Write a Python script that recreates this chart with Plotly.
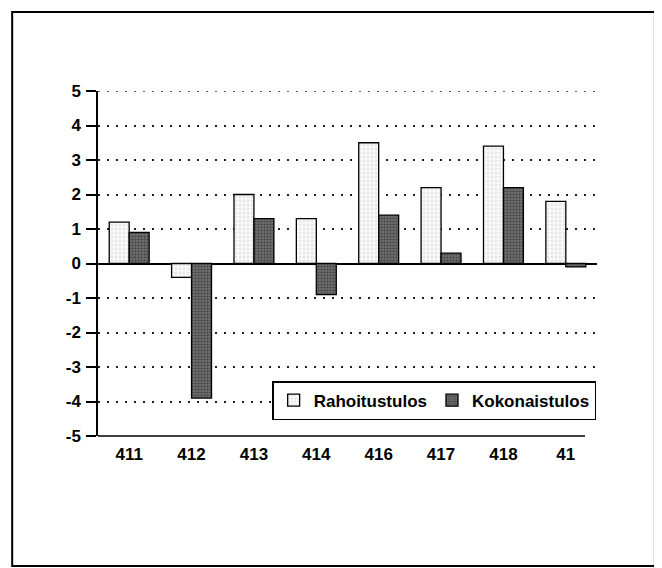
import plotly.graph_objects as go

categories = ["411", "412", "413", "414", "416", "417", "418", "41"]
rahoitustulos = [1.2, -0.4, 2.0, 1.3, 3.5, 2.2, 3.4, 1.8]
kokonaistulos = [0.9, -3.9, 1.3, -0.9, 1.4, 0.3, 2.2, -0.1]
y_ticks = [5, 4, 3, 2, 1, 0, -1, -2, -3, -4, -5]
y_max = 5

fig = go.Figure()
fig.add_trace(go.Bar(
    x=categories, y=rahoitustulos, name="Rahoitustulos",
    marker=dict(color="#f3f3f3", line=dict(color="black", width=1.3),
                pattern=dict(shape=".", fgcolor="#cfcfcf", bgcolor="#f7f7f7", size=4, solidity=0.25)),
))
fig.add_trace(go.Bar(
    x=categories, y=kokonaistulos, name="Kokonaistulos",
    marker=dict(color="#4a4a4a", line=dict(color="black", width=1.3),
                pattern=dict(shape=".", fgcolor="#1a1a1a", bgcolor="#7a7a7a", size=3, solidity=0.55)),
))

font_family = "Liberation Sans, Arial, sans-serif"

fig.update_layout(
    width=654, height=560,
    margin=dict(l=90, r=65, t=83, b=132),
    paper_bgcolor="white", plot_bgcolor="white",
    barmode="group", bargap=0.36, bargroupgap=0,
    showlegend=True,
    legend=dict(
        orientation="h", x=0.349, y=0.159, xanchor="left", yanchor="top",
        bordercolor="black", borderwidth=1.5, bgcolor="white",
        font=dict(family=font_family, size=17, color="black", weight="bold"),
        itemwidth=30, tracegroupgap=0,
    ),
    xaxis=dict(
        type="category", showline=False,
        ticks="", showgrid=False,
        tickfont=dict(family=font_family, size=17, color="black", weight="bold"),
        ticklabelstandoff=6,
    ),
    yaxis=dict(
        range=[-5, 5], tickvals=y_ticks, ticktext=[str(v) for v in y_ticks],
        showline=True, linecolor="black", linewidth=1.5,
        ticks="outside", ticklen=10, tickwidth=1.5, tickcolor="black",
        showgrid=True, gridcolor="#222222", gridwidth=1.5, griddash="2px,7px",
        zeroline=True, zerolinecolor="black", zerolinewidth=1.5,
        tickfont=dict(family=font_family, size=17, color="black", weight="bold"),
        ticklabelstandoff=2,
    ),
    shapes=[
        dict(type="rect", xref="paper", yref="paper",
             x0=-0.172, x1=1.116, y0=-0.377, y1=1.229,
             line=dict(color="black", width=2), fillcolor="rgba(0,0,0,0)", layer="below"),
        dict(type="line", xref="paper", yref="paper",
             x0=0, x1=0.976, y0=0, y1=0,
             line=dict(color="black", width=1.5)),
        dict(type="line", xref="paper", yref="y",
             x0=0, x1=1, y0=y_max, y1=y_max,
             line=dict(color="#222222", width=1.5, dash="2px,7px"), layer="below"),
    ],
)

fig.write_html("out.html")
